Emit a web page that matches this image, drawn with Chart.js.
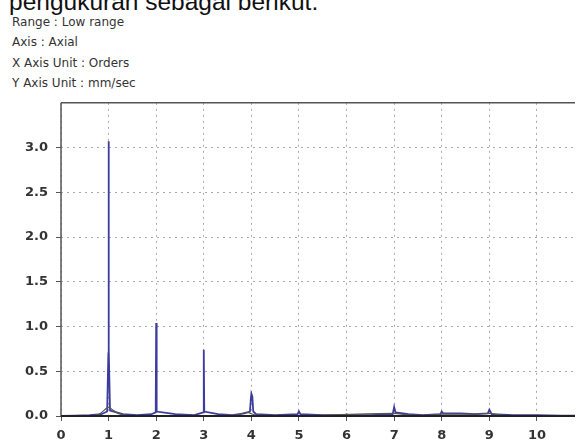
<!DOCTYPE html>
<html>
<head>
<meta charset="utf-8">
<script src="https://cdn.jsdelivr.net/npm/chart.js@4/dist/chart.umd.min.js"></script>
<style>
  html, body { margin: 0; padding: 0; background: #fff; overflow: hidden; }
  body { width: 576px; height: 443px; position: relative; }
  .cap { position: absolute; left: 9px; top: -10px; font-family: "Liberation Sans", Arial, sans-serif; font-size: 24.5px; line-height: 24px; color: #111; white-space: nowrap; }
  .hd { position: absolute; left: 12px; font-family: "DejaVu Sans", sans-serif; font-size: 12px; line-height: 12px; color: #333; white-space: nowrap; }
  #wrap { position: absolute; left: 0; top: 87px; width: 576px; height: 356px; }
</style>
</head>
<body>
<div class="cap">pengukuran sebagai berikut.</div>
<div class="hd" style="top:15.5px">Range : Low range</div>
<div class="hd" style="top:36px">Axis : Axial</div>
<div class="hd" style="top:57px">X Axis Unit : Orders</div>
<div class="hd" style="top:77px">Y Axis Unit : mm/sec</div>
<div id="wrap"><canvas id="c" width="576" height="356"></canvas></div>
<script>
// Spectrum (blue)
const orders = [0, 0.3, 0.6, 0.85, 0.97, 0.995, 1.0, 1.005, 1.03, 1.3, 1.6, 1.9, 1.99, 2.0, 2.01, 2.4, 2.8, 2.99, 3.0, 3.01, 3.3, 3.6, 3.85, 3.97, 3.99, 4.0, 4.02, 4.04, 4.1, 4.5, 4.97, 5.0, 5.03, 5.5, 5.97, 6.0, 6.03, 6.5, 6.97, 7.0, 7.03, 7.3, 7.6, 7.97, 8.0, 8.03, 8.4, 8.7, 8.97, 9.0, 9.05, 9.5, 10.0, 10.5, 10.8];
const amplitude = [0.0, 0.005, 0.01, 0.02, 0.05, 0.7, 3.07, 0.75, 0.06, 0.02, 0.01, 0.02, 0.04, 1.04, 0.05, 0.02, 0.01, 0.04, 0.74, 0.05, 0.02, 0.01, 0.03, 0.05, 0.2, 0.25, 0.22, 0.05, 0.02, 0.01, 0.02, 0.05, 0.02, 0.01, 0.01, 0.02, 0.01, 0.01, 0.02, 0.1, 0.04, 0.02, 0.01, 0.02, 0.05, 0.03, 0.03, 0.02, 0.03, 0.07, 0.02, 0.01, 0.01, 0.005, 0.005];
// Overall envelope (dark)
const envOrders = [0, 0.6, 0.8, 0.92, 1.0, 1.08, 1.2, 1.4, 2.0, 3.0, 3.7, 3.9, 4.1, 5.0, 7.0, 7.3, 7.8, 8.0, 8.7, 9.0, 9.3, 10.8];
const envAmp = [0.0, 0.0, 0.02, 0.07, 0.1, 0.07, 0.03, 0.005, 0.005, 0.005, 0.01, 0.04, 0.01, 0.005, 0.03, 0.01, 0.01, 0.02, 0.02, 0.03, 0.005, 0.0];
const xTicks = [0, 1, 2, 3, 4, 5, 6, 7, 8, 9, 10];
const yTicks = [0.0, 0.5, 1.0, 1.5, 2.0, 2.5, 3.0];

const frame = {
  id: 'frame',
  afterDatasetsDraw(chart) {
    const a = chart.chartArea, ctx = chart.ctx;
    ctx.save();
    ctx.setLineDash([]);
    ctx.strokeStyle = '#555';
    ctx.lineWidth = 1.5;
    ctx.beginPath();
    ctx.moveTo(a.left, a.top); ctx.lineTo(a.right, a.top);
    ctx.moveTo(a.left, a.top); ctx.lineTo(a.left, a.bottom);
    ctx.stroke();
    ctx.lineWidth = 2.2;
    ctx.strokeStyle = '#222';
    ctx.beginPath();
    ctx.moveTo(a.left, a.bottom); ctx.lineTo(a.right, a.bottom);
    ctx.stroke();
    ctx.restore();
  }
};

const tickFont = { family: 'DejaVu Sans', size: 13, weight: 'bold' };

new Chart(document.getElementById('c'), {
  type: 'line',
  data: {
    datasets: [
      {
        data: envOrders.map((x, i) => ({ x, y: envAmp[i] })),
        borderColor: '#555',
        borderWidth: 1.2,
        pointRadius: 0,
        tension: 0.3
      },
      {
        data: orders.map((x, i) => ({ x, y: amplitude[i] })),
        borderColor: '#3c3c9e',
        borderWidth: 1.8,
        pointRadius: 0,
        tension: 0
      }
    ]
  },
  plugins: [frame],
  options: {
    responsive: false,
    animation: false,
    events: [],
    layout: { padding: { top: 7, right: 1, left: 0, bottom: 0 } },
    plugins: { legend: { display: false }, tooltip: { enabled: false } },
    scales: {
      x: {
        type: 'linear',
        min: 0, max: 10.8,
        afterFit(s) { s.height = 27; },
        afterBuildTicks(s) { s.ticks = xTicks.map(v => ({ value: v })); },
        ticks: { color: '#333', font: tickFont, padding: 7, maxRotation: 0, callback: v => String(v) },
        grid: { color: '#aaa', lineWidth: 1, tickLength: 5, tickColor: '#555', tickBorderDash: [] },
        border: { display: false, dash: [2, 4] }
      },
      y: {
        min: 0, max: 3.5,
        afterFit(s) { s.width = 61; },
        afterBuildTicks(s) { s.ticks = yTicks.map(v => ({ value: v })); },
        ticks: { color: '#333', font: tickFont, padding: 8, callback: v => v.toFixed(1) },
        grid: { color: '#aaa', lineWidth: 1, tickLength: 5, tickColor: '#555', tickBorderDash: [] },
        border: { display: false, dash: [2, 4] }
      }
    }
  }
});
</script>
</body>
</html>
